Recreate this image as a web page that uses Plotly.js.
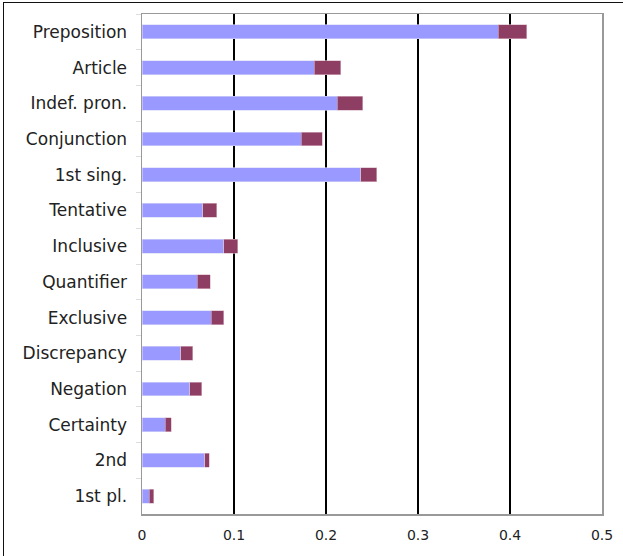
<!DOCTYPE html>
<html>
<head>
<meta charset="utf-8">
<script src="https://cdn.plot.ly/plotly-3.0.1.min.js"></script>
<style>
html,body{margin:0;padding:0;background:#fff;}
#frame{position:absolute;left:3px;top:2px;width:640px;height:600px;border-top:1.5px solid #111;border-left:1.5px solid #111;box-sizing:border-box;pointer-events:none;z-index:5;}
#chart{position:absolute;left:0;top:0;width:623px;height:556px;}
</style>
</head>
<body>
<div id="chart"></div>
<div id="frame"></div>
<script>
var categories = ["Preposition","Article","Indef. pron.","Conjunction","1st sing.","Tentative","Inclusive","Quantifier","Exclusive","Discrepancy","Negation","Certainty","2nd","1st pl."];
var seriesA = [0.387,0.187,0.212,0.173,0.238,0.066,0.089,0.060,0.075,0.042,0.052,0.025,0.068,0.008];
var seriesB = [0.031,0.029,0.028,0.023,0.017,0.015,0.015,0.014,0.014,0.013,0.013,0.007,0.005,0.005];
var xTicks = [0,0.1,0.2,0.3,0.4,0.5];
var xTickText = ["0","0.1","0.2","0.3","0.4","0.5"];

var traces = [
  {type:'bar', orientation:'h', y:categories, x:seriesA, name:'A',
   marker:{color:'#9999FF', line:{color:'#D8D8F8', width:0.6}}, width:0.39, hoverinfo:'x+y'},
  {type:'bar', orientation:'h', y:categories, x:seriesB, name:'B',
   marker:{color:'#8E3E63', line:{color:'#D9B8C6', width:0.6}}, width:0.39, hoverinfo:'x+y'}
];

var layout = {
  width:623, height:556,
  margin:{l:142, r:21, t:14, b:42},
  barmode:'stack',
  showlegend:false,
  paper_bgcolor:'#fff', plot_bgcolor:'#fff',
  font:{family:'DejaVu Sans, Verdana, sans-serif', color:'#222'},
  xaxis:{
    range:[0,0.5], tickvals:xTicks, ticktext:xTickText,
    showgrid:true, gridcolor:'#000', gridwidth:1.5,
    zeroline:false, showline:true, mirror:true, linecolor:'#999', linewidth:1.5,
    ticks:'', tickfont:{size:14, color:'#222'}, ticklabelstandoff:8
  },
  yaxis:{
    type:'category', autorange:'reversed',
    showgrid:false, zeroline:false, showline:true, mirror:true, linecolor:'#999', linewidth:1.5,
    ticks:'outside', tickson:'boundaries', ticklen:5, tickcolor:'#ddd', tickwidth:1,
    tickfont:{size:17, color:'#222'}, ticklabelstandoff:10
  }
};

Plotly.newPlot('chart', traces, layout, {displayModeBar:false, staticPlot:true});
</script>
</body>
</html>
